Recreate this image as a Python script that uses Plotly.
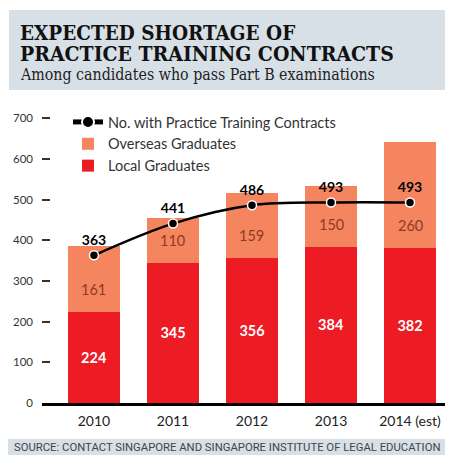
import plotly.graph_objects as go

years = ["2010", "2011", "2012", "2013", "2014 (est)"]
local = [224, 345, 356, 384, 382]
overseas = [161, 110, 159, 150, 260]
contracts = [363, 441, 486, 493, 493]
y_ticks = [0, 100, 200, 300, 400, 500, 600, 700]

# The page adds an 8px body margin, so the figure is drawn 8px smaller
OFF = 8
W, H = 453 - 2 * OFF, 464 - 2 * OFF
L, R, T, B = 34, 0, 98, 53
PW, PH = W - L - R, H - T - B


def px(x):
    # x given in page pixels
    return (x - OFF - L) / PW


def py(y):
    # y given in page pixels
    return (H - B - (y - OFF)) / PH


BODY = "Lato, 'Noto Sans', sans-serif"
SERIF = "'DejaVu Serif Condensed', 'DejaVu Serif', serif"
RED = "#EC1B24"
SALMON = "#F4855F"
HEADER_BG = "#D7E0E7"

fig = go.Figure()
fig.add_trace(go.Bar(
    x=years, y=local, name="Local Graduates", marker=dict(color=RED, line=dict(width=0)),
    text=[str(v) for v in local], textposition="inside", insidetextanchor="middle",
    textfont=dict(color="white", size=14.5, family=BODY, weight="bold"), width=0.66,
    hoverinfo="skip",
))
fig.add_trace(go.Bar(
    x=years, y=overseas, name="Overseas Graduates", marker=dict(color=SALMON, line=dict(width=0)),
    width=0.66, hoverinfo="skip",
))
fig.add_trace(go.Scatter(
    x=years, y=contracts, name="No. with Practice Training Contracts",
    mode="lines+markers+text", line=dict(color="black", width=2.5, shape="spline"),
    marker=dict(color="black", size=9, line=dict(color="white", width=1.5)),
    text=[str(v) for v in contracts], textposition="top center",
    textfont=dict(color="black", size=14, family=BODY, weight="bold"),
    hoverinfo="skip",
))

annotations = [
    dict(text="<b>EXPECTED SHORTAGE OF</b>", x=px(18), y=py(33), xref="paper", yref="paper",
         xanchor="left", yanchor="middle", showarrow=False,
         font=dict(family=SERIF, size=20.5, color="#111111")),
    dict(text="<b>PRACTICE TRAINING CONTRACTS</b>", x=px(18), y=py(54), xref="paper", yref="paper",
         xanchor="left", yanchor="middle", showarrow=False,
         font=dict(family=SERIF, size=21, color="#111111")),
    dict(text="Among candidates who pass Part B examinations", x=px(18), y=py(75), xref="paper",
         yref="paper", xanchor="left", yanchor="middle", showarrow=False,
         font=dict(family=SERIF, size=15.8, color="#222222")),
    dict(text="SOURCE: CONTACT SINGAPORE AND SINGAPORE INSTITUTE OF LEGAL EDUCATION",
         x=px(227), y=py(447), xref="paper", yref="paper",
         xanchor="center", yanchor="middle", showarrow=False,
         font=dict(family="Roboto, sans-serif", size=11.3, color="#444444")),
]
# overseas segment labels, placed in the lower part of each salmon segment
for i, (lo, ov) in enumerate(zip(local, overseas)):
    annotations.append(dict(
        text=str(ov), x=i, y=lo + min(ov / 2, 55), xref="x", yref="y",
        xanchor="center", yanchor="middle", showarrow=False,
        font=dict(family=BODY, size=14.5, color="#8E3B24"),
    ))

fig.update_layout(
    width=W, height=H,
    margin=dict(l=L, r=R, t=T, b=B, autoexpand=False),
    paper_bgcolor="white", plot_bgcolor="white",
    barmode="stack", bargap=0.34,
    showlegend=True,
    legend=dict(
        x=px(68), y=py(106), xanchor="left", yanchor="top",
        traceorder="reversed", bgcolor="rgba(0,0,0,0)",
        font=dict(family=BODY, size=14.5, color="#333333"),
        itemsizing="constant", tracegroupgap=0,
    ),
    xaxis=dict(
        type="category",
        range=[-0.658, 4.443], showgrid=False, zeroline=False, automargin=False,
        showline=True, linecolor="black", linewidth=2.5,
        ticks="", tickfont=dict(family=BODY, size=14, color="#222222"),
        ticklabelstandoff=3,
    ),
    yaxis=dict(
        range=[0, 730], tickvals=y_ticks, showgrid=False, zeroline=False, automargin=False,
        showline=False, ticks="inside", ticklen=8, tickwidth=2, tickcolor="#333333",
        tickfont=dict(family=BODY, size=11.5, color="#333333"),
        ticklabelstandoff=8,
    ),
    shapes=[
        dict(type="rect", xref="paper", yref="paper", x0=px(9), x1=px(445),
             y0=py(90), y1=py(10), fillcolor=HEADER_BG, line=dict(width=0), layer="below"),
        dict(type="rect", xref="paper", yref="paper", x0=px(8), x1=px(445),
             y0=py(455), y1=py(439), fillcolor=HEADER_BG, line=dict(width=0), layer="below"),
    ],
    annotations=annotations,
)

fig.write_html("out.html")
